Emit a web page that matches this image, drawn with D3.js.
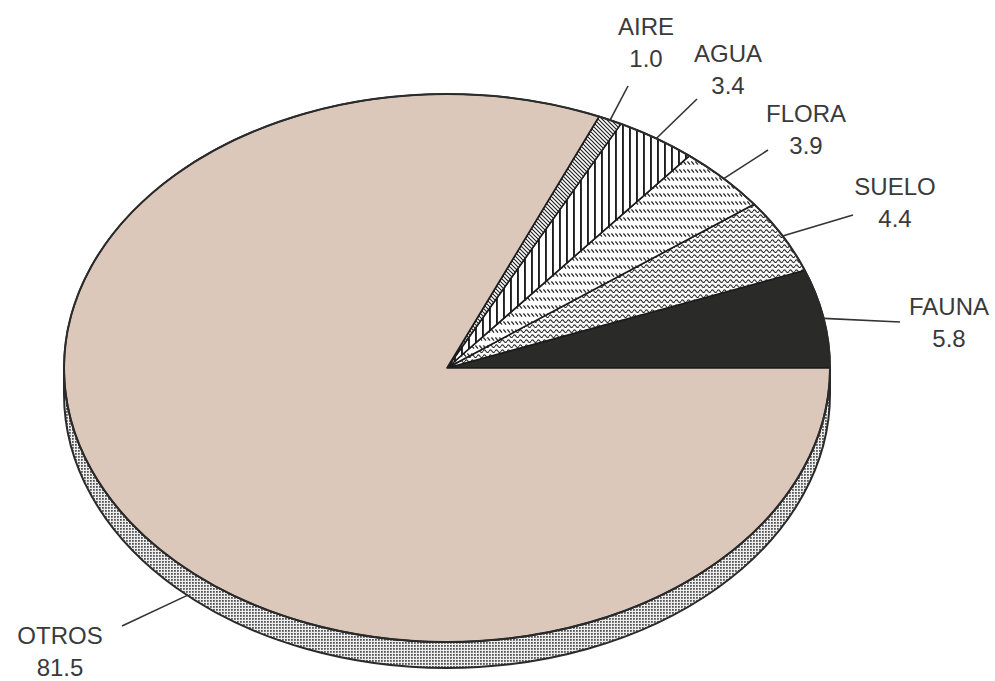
<!DOCTYPE html>
<html>
<head>
<meta charset="utf-8">
<script src="https://cdn.jsdelivr.net/npm/d3@7"></script>
<style>
  html, body { margin: 0; padding: 0; background: #fff; }
  svg text { font-family: "Liberation Sans", Arial, sans-serif; }
</style>
</head>
<body>
<div id="chart"></div>
<script>
// data
var categories = ["FAUNA", "SUELO", "FLORA", "AGUA", "AIRE", "OTROS"];
var values = [5.8, 4.4, 3.9, 3.4, 1.0, 81.5];
var valueLabels = ["5.8", "4.4", "3.9", "3.4", "1.0", "81.5"];

var width = 995, height = 681;
var cx = 447, cy = 368, rx = 383, ry = 274, depth = 26;
var k = ry / rx;

// label placement: text centre / first baseline, leader end, leader anchor tweak
var labelLayout = {
  FAUNA: { tx: 949, ty: 315, ex: 900, ey: 322, shift: 0, rim: false },
  SUELO: { tx: 895, ty: 195, ex: 853, ey: 215, shift: 0, rim: false },
  FLORA: { tx: 806, ty: 122, ex: 768, ey: 150, shift: 0, rim: false },
  AGUA:  { tx: 728, ty: 62,  ex: 697, ey: 99,  shift: 0, rim: false },
  AIRE:  { tx: 646, ty: 35,  ex: 628, ey: 86,  shift: 0, rim: false },
  OTROS: { tx: 60,  ty: 644, ex: 122, ey: 626, shift: -14, rim: true }
};

var svg = d3.select("#chart").append("svg")
  .attr("width", width).attr("height", height);

var defs = svg.append("defs");

function makePattern(id, w, h, bg) {
  var p = defs.append("pattern")
    .attr("id", id)
    .attr("patternUnits", "userSpaceOnUse")
    .attr("width", w).attr("height", h)
    .attr("patternTransform", "scale(1," + (1 / k) + ")");
  p.append("rect").attr("width", w).attr("height", h).attr("fill", bg);
  return p;
}

// AIRE - fine diagonal hatch
var pAire = makePattern("p-aire", 4, 4, "#fff");
pAire.append("path").attr("d", "M-1,-1 L5,5 M-1,3 L1,5 M3,-1 L5,1")
  .attr("stroke", "#222").attr("stroke-width", 1.2);

// AGUA - vertical lines
var pAgua = makePattern("p-agua", 7, 7, "#fff");
pAgua.append("rect").attr("x", 0).attr("y", 0).attr("width", 1.9).attr("height", 7).attr("fill", "#1e1e1e");

// FLORA - rows of short slashes
var pFlora = makePattern("p-flora", 4, 8, "#fff");
pFlora.append("path").attr("d", "M0.4,1.4 L3,4.6")
  .attr("stroke", "#2a2a2a").attr("stroke-width", 1.3);

// SUELO - wavy rows
var pSuelo = makePattern("p-suelo", 6, 5, "#fafafa");
pSuelo.append("path").attr("d", "M0,3.2 Q1.5,0.6 3,3.2 T6,3.2")
  .attr("fill", "none").attr("stroke", "#2a2a2a").attr("stroke-width", 1.1);

// rim - dense dot screen
var pRim = defs.append("pattern")
  .attr("id", "p-rim").attr("patternUnits", "userSpaceOnUse")
  .attr("width", 3).attr("height", 3);
pRim.append("rect").attr("width", 3).attr("height", 3).attr("fill", "#eeeeee");
pRim.append("rect").attr("width", 1.8).attr("height", 1.8).attr("fill", "#555");

var fills = {
  FAUNA: "#2a2a28",
  SUELO: "url(#p-suelo)",
  FLORA: "url(#p-flora)",
  AGUA: "url(#p-agua)",
  AIRE: "url(#p-aire)",
  OTROS: "#dbc8bb"
};

var pieData = categories.map(function (c, i) {
  return { name: c, value: values[i], label: valueLabels[i] };
});

var pie = d3.pie()
  .sort(null)
  .value(function (d) { return d.value; })
  .startAngle(Math.PI / 2)
  .endAngle(Math.PI / 2 - 2 * Math.PI);

var arcs = pie(pieData);

// side of the disc
svg.append("path")
  .attr("d", "M" + (cx - rx) + "," + cy +
    " A" + rx + "," + ry + " 0 0 0 " + (cx + rx) + "," + cy +
    " L" + (cx + rx) + "," + (cy + depth) +
    " A" + rx + "," + ry + " 0 0 1 " + (cx - rx) + "," + (cy + depth) + " Z")
  .attr("fill", "url(#p-rim)")
  .attr("stroke", "#2b2b2b")
  .attr("stroke-width", 2);

// top face, drawn on a circle and squashed to the ellipse
var arc = d3.arc().innerRadius(0).outerRadius(rx);

var face = svg.append("g")
  .attr("transform", "translate(" + cx + "," + cy + ") scale(1," + k + ")");

face.selectAll("path.slice")
  .data(arcs)
  .enter()
  .append("path")
  .attr("class", "slice")
  .attr("d", arc)
  .attr("fill", function (d) { return fills[d.data.name]; })
  .attr("stroke", "#1c1c1c")
  .attr("stroke-width", 1.6)
  .attr("stroke-linejoin", "round")
  .attr("vector-effect", "non-scaling-stroke");

face.append("ellipse")
  .attr("rx", rx).attr("ry", rx)
  .attr("fill", "none")
  .attr("stroke", "#2b2b2b")
  .attr("stroke-width", 2)
  .attr("vector-effect", "non-scaling-stroke");

// leaders and labels
function edgePoint(a, onRim) {
  return [cx + rx * Math.sin(a), cy - ry * Math.cos(a) + (onRim ? depth : 0)];
}

var labelLayer = svg.append("g");

arcs.forEach(function (d) {
  var L = labelLayout[d.data.name];
  var mid = (d.startAngle + d.endAngle) / 2 + L.shift * Math.PI / 180;
  var p = edgePoint(mid, L.rim);

  labelLayer.append("line")
    .attr("x1", p[0]).attr("y1", p[1])
    .attr("x2", L.ex).attr("y2", L.ey)
    .attr("stroke", "#333")
    .attr("stroke-width", 1.6);

  var t = labelLayer.append("text")
    .attr("text-anchor", "middle")
    .attr("font-size", 24)
    .attr("fill", "#3a3a3a");
  t.append("tspan").attr("x", L.tx).attr("y", L.ty).text(d.data.name);
  t.append("tspan").attr("x", L.tx).attr("y", L.ty + 32).text(d.data.label);
});
</script>
</body>
</html>
